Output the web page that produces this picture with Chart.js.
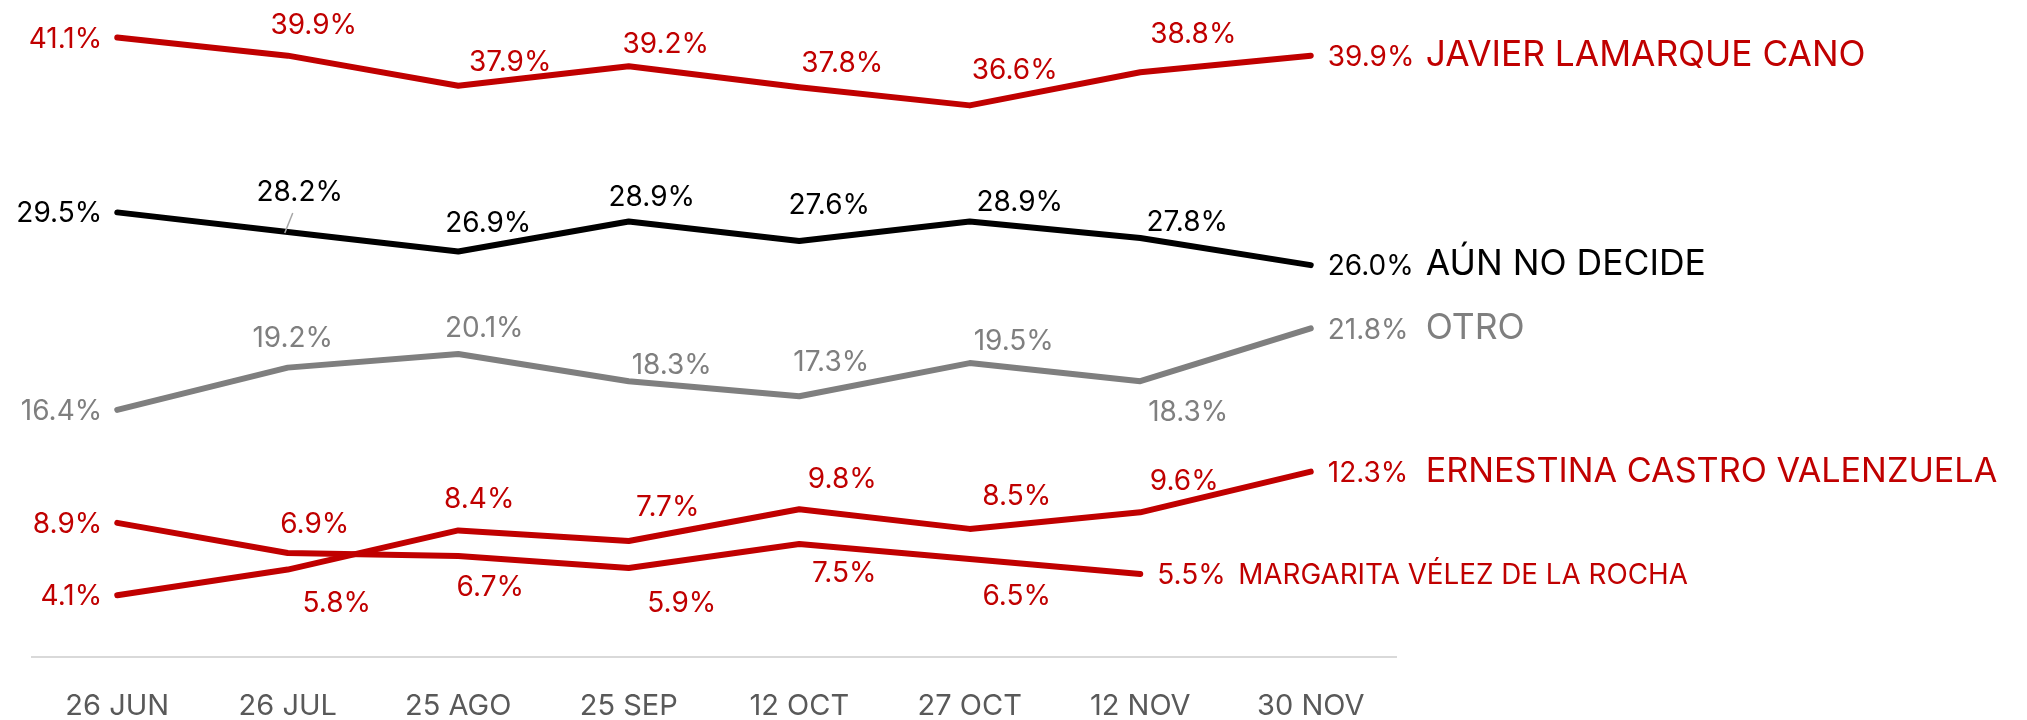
<!DOCTYPE html>
<html>
<head>
<meta charset="utf-8">
<script src="https://cdn.jsdelivr.net/npm/chart.js@4.4.1/dist/chart.umd.min.js"></script>
<style>
  html, body { margin: 0; padding: 0; background: #fff; }
  #wrap { width: 2027px; height: 720px; }
</style>
</head>
<body>
<div id="wrap"><canvas id="chart"></canvas></div>
<script>
// fechas de las encuestas
const fechas = ['26 JUN', '26 JUL', '25 AGO', '25 SEP', '12 OCT', '27 OCT', '12 NOV', '30 NOV'];

// valores (%) por candidato
const javier    = [41.1, 39.9, 37.9, 39.2, 37.8, 36.6, 38.8, 39.9];
const aun       = [29.5, 28.2, 26.9, 28.9, 27.6, 28.9, 27.8, 26.0];
const otro      = [16.4, 19.2, 20.1, 18.3, 17.3, 19.5, 18.3, 21.8];
const ernestina = [4.1, 5.8, 8.4, 7.7, 9.8, 8.5, 9.6, 12.3];
const margarita = [8.9, 6.9, 6.7, 5.9, 7.5, 6.5, 5.5, null];

const nombres = ['JAVIER LAMARQUE CANO', 'AÚN NO DECIDE', 'OTRO', 'ERNESTINA CASTRO VALENZUELA', 'MARGARITA VÉLEZ DE LA ROCHA'];

const ROJO = '#C00000';
const NEGRO = '#000000';
const GRIS = '#7F7F7F';
const FUENTE = 'Inter, "Noto Sans", sans-serif';

// desplazamiento de cada etiqueta intermedia respecto a su punto (px)
const desplazamientos = [
  [[26, -32], [52, -25], [37, -23], [43, -25], [45, -36], [53, -39]],
  [[12, -41], [30, -30], [23, -26], [30, -37], [50, -21], [47, -17]],
  [[5, -31], [26, -27], [43, -17], [32, -35], [44, -23], [48, 30]],
  [[49, 32], [21, -32], [39, -35], [43, -31], [47, -34], [44, -32]],
  [[27, -30], [32, 30], [53, 34], [45, 28], [47, 36]]
];
const tamNombre = [35.3, 35.5, 35.5, 34.2, 27.8];
const sepNombre = [115, 115, 115, 115, 98];

const tamNum = 28;

const etiquetas = {
  id: 'etiquetas',
  afterDatasetsDraw(chart) {
    const ctx = chart.ctx;
    chart.data.datasets.forEach((ds, i) => {
      const meta = chart.getDatasetMeta(i);
      let ultimo = ds.data.length - 1;
      while (ds.data[ultimo] == null) ultimo--;
      ctx.save();
      ctx.fillStyle = ds.borderColor;
      ctx.textBaseline = 'alphabetic';
      meta.data.forEach((pt, j) => {
        const v = ds.data[j];
        if (v == null) return;
        const txt = v.toFixed(1) + '%';
        ctx.font = tamNum + 'px ' + FUENTE;
        if (j === 0) {
          ctx.textAlign = 'right';
          ctx.fillText(txt, pt.x - 15, pt.y + tamNum * 0.36);
        } else if (j === ultimo) {
          ctx.textAlign = 'left';
          ctx.fillText(txt, pt.x + 17, pt.y + tamNum * 0.36);
          ctx.font = tamNombre[i] + 'px ' + FUENTE;
          ctx.fillText(nombres[i], pt.x + sepNombre[i], pt.y + tamNum * 0.36);
        } else {
          const [dx, dy] = desplazamientos[i][j - 1];
          ctx.textAlign = 'center';
          ctx.fillText(txt, pt.x + dx, pt.y + dy + tamNum * 0.36);
        }
      });
      ctx.restore();
    });
    // linea guia de 28.2%
    const p = chart.getDatasetMeta(1).data[1];
    ctx.save();
    ctx.strokeStyle = '#A6A6A6';
    ctx.lineWidth = 1.5;
    ctx.beginPath();
    ctx.moveTo(p.x - 3, p.y + 1);
    ctx.lineTo(p.x + 5, p.y - 19);
    ctx.stroke();
    ctx.restore();
  }
};

function serie(label, data, color) {
  return {
    label: label,
    data: data,
    borderColor: color,
    backgroundColor: color,
    borderWidth: 6,
    pointRadius: 0,
    borderCapStyle: 'round',
    borderJoinStyle: 'round',
    tension: 0
  };
}

new Chart(document.getElementById('chart'), {
  type: 'line',
  data: {
    labels: fechas,
    datasets: [
      serie(nombres[0], javier, ROJO),
      serie(nombres[1], aun, NEGRO),
      serie(nombres[2], otro, GRIS),
      serie(nombres[3], ernestina, ROJO),
      serie(nombres[4], margarita, ROJO)
    ]
  },
  options: {
    responsive: true,
    maintainAspectRatio: false,
    devicePixelRatio: 1,
    animation: false,
    layout: { padding: { left: 32, right: 631, top: 24, bottom: 0 } },
    scales: {
      x: {
        offset: true,
        grid: { display: false, drawTicks: false },
        border: { display: true, color: '#D9D9D9', width: 2 },
        ticks: { color: '#595959', font: { family: FUENTE, size: 29 }, padding: 32 },
        afterFit(scale) { scale.height = 63; }
      },
      y: { display: false, min: 0, max: 42 }
    },
    plugins: {
      legend: { display: false },
      tooltip: { enabled: false }
    }
  },
  plugins: [etiquetas]
});
</script>
</body>
</html>
